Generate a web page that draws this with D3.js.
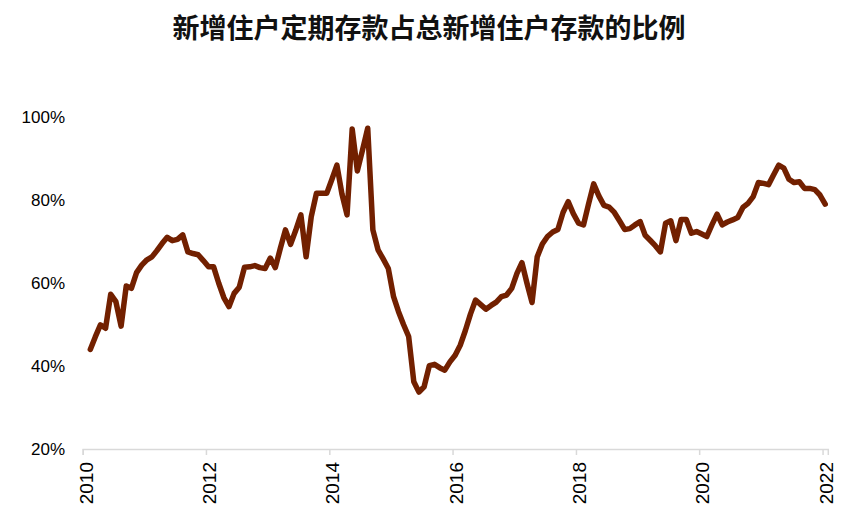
<!DOCTYPE html>
<html>
<head>
<meta charset="utf-8">
<script src="https://cdn.jsdelivr.net/npm/d3@7"></script>
<style>
  html, body { margin: 0; padding: 0; background: #fff; }
  svg { display: block; }
</style>
</head>
<body>
<svg id="chart" width="867" height="526"></svg>
<script>
// ---- data ----
const title = "新增住户定期存款占总新增住户存款的比例";
const startMonth = "2010-02";           // first observation
const endAxisMonth = "2022-02";         // axis extends to here
const yTicks = [20, 40, 60, 80, 100];
const xTickYears = [2010, 2012, 2014, 2016, 2018, 2020, 2022];
// monthly share (%) Feb 2010 .. Jan 2022
const values2010 = [44.0, 47.0, 49.9, 49.1, 57.3, 55.5, 49.6, 59.3, 58.7, 62.5, 64.3];
const values2011 = [65.6, 66.3, 67.8, 69.5, 71.0, 70.2, 70.5, 71.6, 67.5, 67.1, 66.8, 65.4];
const values2012 = [63.9, 63.9, 60.0, 56.5, 54.3, 57.5, 59.0, 63.8, 63.9, 64.2, 63.7, 63.5];
const values2013 = [66.0, 63.7, 68.3, 72.8, 69.3, 72.7, 76.4, 66.3, 76.0, 81.6, 81.6, 81.6];
const values2014 = [85.0, 88.4, 81.5, 76.4, 97.1, 87.0, 92.0, 97.3, 72.8, 68.0, 65.8, 63.5];
const values2015 = [56.7, 53.1, 50.0, 47.1, 36.2, 33.7, 35.0, 40.1, 40.4, 39.6, 39.0, 41.0];
const values2016 = [42.6, 45.0, 48.5, 52.5, 55.9, 54.8, 53.7, 54.6, 55.4, 56.7, 57.1, 58.7];
const values2017 = [62.3, 64.9, 60.0, 55.3, 66.3, 69.4, 71.2, 72.3, 72.9, 77.0, 79.6, 76.7];
const values2018 = [74.4, 74.0, 79.0, 83.9, 81.0, 78.7, 78.3, 77.0, 75.0, 72.9, 73.1, 74.0];
const values2019 = [74.8, 71.5, 70.3, 69.0, 67.5, 74.4, 75.0, 70.2, 75.3, 75.3, 72.0, 72.4];
const values2020 = [71.8, 71.2, 74.0, 76.6, 74.0, 74.7, 75.2, 75.8, 78.2, 79.2, 80.8, 84.2];
const values2021 = [84.0, 83.7, 86.0, 88.4, 87.7, 85.0, 84.2, 84.4, 82.8, 82.8, 82.5, 81.2];
const values2022 = [79.0];

const values = [].concat(values2010, values2011, values2012, values2013, values2014,
  values2015, values2016, values2017, values2018, values2019, values2020, values2021, values2022);

// ---- layout ----
const parseMonth = d3.timeParse("%Y-%m");
const start = parseMonth(startMonth);
const data = values.map((v, i) => {
  const m0 = d3.timeMonth.offset(start, i);
  const m1 = d3.timeMonth.offset(start, i + 1);
  return { date: new Date((+m0 + +m1) / 2), value: v };
});

const svg = d3.select("#chart");
const x = d3.scaleTime()
  .domain([new Date(2010, 0, 1), parseMonth(endAxisMonth)])
  .range([82.7, 827.8]);
const y = d3.scaleLinear().domain([20, 100]).range([449, 117]);

// title
svg.append("text")
  .attr("x", 429).attr("y", 26)
  .attr("text-anchor", "middle")
  .attr("dominant-baseline", "central")
  .style("font-family", "'Noto Sans CJK SC', sans-serif")
  .style("font-weight", "bold")
  .style("font-size", "27px")
  .style("fill", "#111")
  .text(title);

// x axis
const xAxis = d3.axisBottom(x)
  .tickValues(xTickYears.map(yr => new Date(yr, 0, 1)))
  .tickSize(6)
  .tickFormat(d3.timeFormat("%Y"));
const gx = svg.append("g").attr("transform", "translate(0,449)").call(xAxis);
gx.select(".domain").attr("stroke", "#d9d9d9").attr("stroke-width", 1.5);
gx.selectAll(".tick line").attr("stroke", "#d9d9d9").attr("stroke-width", 1.5);
gx.selectAll(".tick text")
  .attr("transform", "rotate(-90)")
  .attr("text-anchor", "end")
  .attr("x", -13)
  .attr("y", 3)
  .attr("dy", "0.35em")
  .style("font-family", "'Liberation Sans', Arial, sans-serif")
  .style("font-size", "19px")
  .style("fill", "#000");

// y axis (labels only)
const yAxis = d3.axisLeft(y)
  .tickValues(yTicks)
  .tickSize(0)
  .tickFormat(d => d + "%");
const gy = svg.append("g").attr("transform", "translate(65,0)").call(yAxis);
gy.select(".domain").remove();
gy.selectAll(".tick text")
  .attr("x", 0)
  .style("font-family", "'Liberation Sans', Arial, sans-serif")
  .style("font-size", "17px")
  .style("fill", "#000");

// line
const line = d3.line().x(d => x(d.date)).y(d => y(d.value));
svg.append("path")
  .datum(data)
  .attr("d", line)
  .attr("fill", "none")
  .attr("stroke", "#722000")
  .attr("stroke-width", 5.5)
  .attr("stroke-linejoin", "round")
  .attr("stroke-linecap", "round");
</script>
</body>
</html>
